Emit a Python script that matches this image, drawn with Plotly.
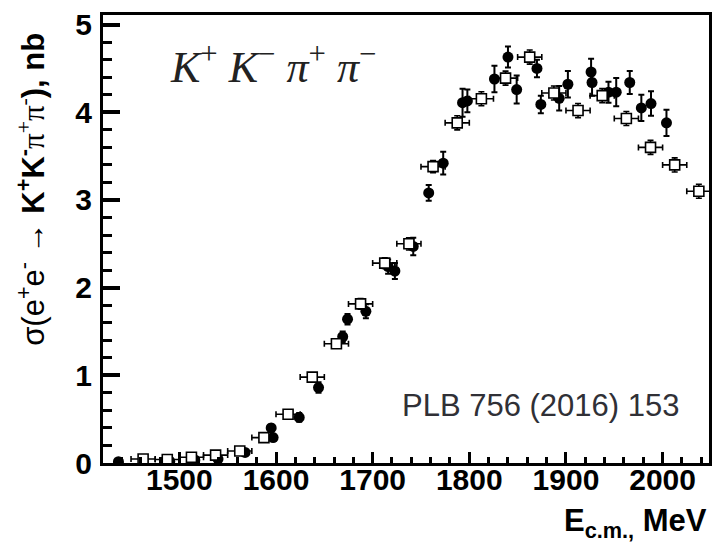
import plotly.graph_objects as go

# Open squares (horizontal bins of 25 MeV)
sq_E = [1462.5, 1487.5, 1512.5, 1537.5, 1562.5, 1587.5, 1612.5, 1637.5, 1662.5, 1687.5,
        1712.5, 1737.5, 1762.5, 1787.5, 1812.5, 1837.5, 1862.5, 1887.5, 1912.5, 1937.5,
        1962.5, 1987.5, 2012.5, 2037.5]
sq_sigma = [0.046, 0.04, 0.065, 0.09, 0.137, 0.29, 0.556, 0.98, 1.36, 1.815,
            2.28, 2.5, 3.38, 3.88, 4.155, 4.39, 4.63, 4.22, 4.02, 4.19,
            3.93, 3.60, 3.40, 3.10]
sq_err = [0.02, 0.02, 0.02, 0.03, 0.03, 0.04, 0.04, 0.05, 0.05, 0.06,
          0.06, 0.07, 0.07, 0.08, 0.08, 0.08, 0.08, 0.08, 0.08, 0.08,
          0.08, 0.08, 0.08, 0.08]
sq_xerr = [12.5] * len(sq_E)

# Filled circles
c_E = [1437, 1490, 1516, 1540, 1568, 1595, 1597, 1624, 1644, 1669,
       1674, 1693, 1716, 1723, 1742, 1758, 1773, 1793, 1798, 1826,
       1840, 1849, 1870, 1874, 1893, 1902, 1926, 1927, 1944, 1952,
       1966, 1978, 1988, 2004]
c_sigma = [0.015, 0.02, 0.035, 0.045, 0.12, 0.40, 0.29, 0.52, 0.86, 1.44,
           1.64, 1.73, 2.24, 2.19, 2.47, 3.08, 3.42, 4.11, 4.13, 4.38,
           4.63, 4.26, 4.50, 4.09, 4.16, 4.32, 4.46, 4.34, 4.23, 4.23,
           4.34, 4.05, 4.10, 3.88]
c_err = [0.01, 0.01, 0.015, 0.02, 0.03, 0.04, 0.04, 0.05, 0.06, 0.06,
         0.06, 0.08, 0.08, 0.09, 0.10, 0.09, 0.13, 0.16, 0.13, 0.15,
         0.12, 0.16, 0.10, 0.10, 0.14, 0.15, 0.15, 0.15, 0.12, 0.16,
         0.13, 0.15, 0.14, 0.15]

x_range = [1421, 2048]
y_range = [0, 5.11]
x_ticks = [1500, 1600, 1700, 1800, 1900, 2000]
y_ticks = [0, 1, 2, 3, 4, 5]

FONT = "Liberation Sans, Arial, sans-serif"
SERIF = "Liberation Serif, DejaVu Serif, serif"

fig = go.Figure()
fig.add_trace(go.Scatter(
    x=c_E, y=c_sigma, mode="markers",
    marker=dict(symbol="circle", size=11, color="black"),
    error_y=dict(type="data", array=c_err, color="black", thickness=2, width=3),
    showlegend=False,
))
fig.add_trace(go.Scatter(
    x=sq_E, y=sq_sigma, mode="markers",
    marker=dict(symbol="square", size=10, color="white", line=dict(color="black", width=1.6)),
    error_y=dict(type="data", array=sq_err, color="black", thickness=1.6, width=3),
    error_x=dict(type="data", array=sq_xerr, color="black", thickness=1.6, width=3),
    showlegend=False,
))

ytitle = ("σ(e<sup>+</sup>e<sup>-</sup> → "
          "<b>K<sup>+</sup>K<sup>-</sup></b>"
          f"<span style='font-family:{SERIF}'>π<sup>+</sup>π<sup>-</sup></span>"
          "<b>), nb</b>")

fig.update_layout(
    width=714, height=545,
    margin=dict(l=103, r=2, t=15, b=82),
    paper_bgcolor="white", plot_bgcolor="white",
    xaxis=dict(
        range=x_range, tickvals=x_ticks, ticktext=[str(t) for t in x_ticks],
        ticks="inside", ticklen=11, tickwidth=3, tickcolor="black",
        showline=True, linecolor="black", linewidth=3, mirror=True,
        showgrid=False, zeroline=False,
        tickfont=dict(family=FONT, size=30, color="black", weight="bold"),
        ticklabelstandoff=-12,
        minor=dict(ticks="inside", ticklen=6, tickwidth=2.5, tickcolor="black", dtick=20, showgrid=False),
    ),
    yaxis=dict(
        range=y_range, tickvals=y_ticks, ticktext=[str(t) for t in y_ticks],
        ticks="inside", ticklen=17, tickwidth=3.5, tickcolor="black",
        showline=True, linecolor="black", linewidth=3, mirror=True,
        showgrid=False, zeroline=False,
        tickfont=dict(family=FONT, size=30, color="black", weight="bold"),
        ticklabelstandoff=2,
        minor=dict(ticks="inside", ticklen=9, tickwidth=3, tickcolor="black", dtick=0.2, showgrid=False),
    ),
    annotations=[
        dict(text=ytitle,
             xref="paper", yref="paper", x=-0.118, y=0.611, textangle=-90,
             showarrow=False, xanchor="center", yanchor="middle",
             font=dict(family=FONT, size=31, color="black")),
        dict(text="E<sub>c.m.,</sub> MeV",
             xref="paper", yref="paper", x=1.0, y=-0.085, xanchor="right", yanchor="top",
             showarrow=False,
             font=dict(family=FONT, size=31, color="black", weight="bold")),
        dict(text="<i>K</i><sup>+</sup> <i>K</i><sup>−</sup> <i>π</i><sup>+</sup> <i>π</i><sup>−</sup>",
             xref="paper", yref="paper", x=0.107, y=0.89, xanchor="left", yanchor="middle",
             showarrow=False,
             font=dict(family=SERIF, size=44, color="#222222")),
        dict(text="PLB 756 (2016) 153",
             xref="paper", yref="paper", x=0.956, y=0.129, xanchor="right", yanchor="middle",
             showarrow=False,
             font=dict(family=FONT, size=31, color="#303036")),
    ],
)

fig.write_html("out.html")
